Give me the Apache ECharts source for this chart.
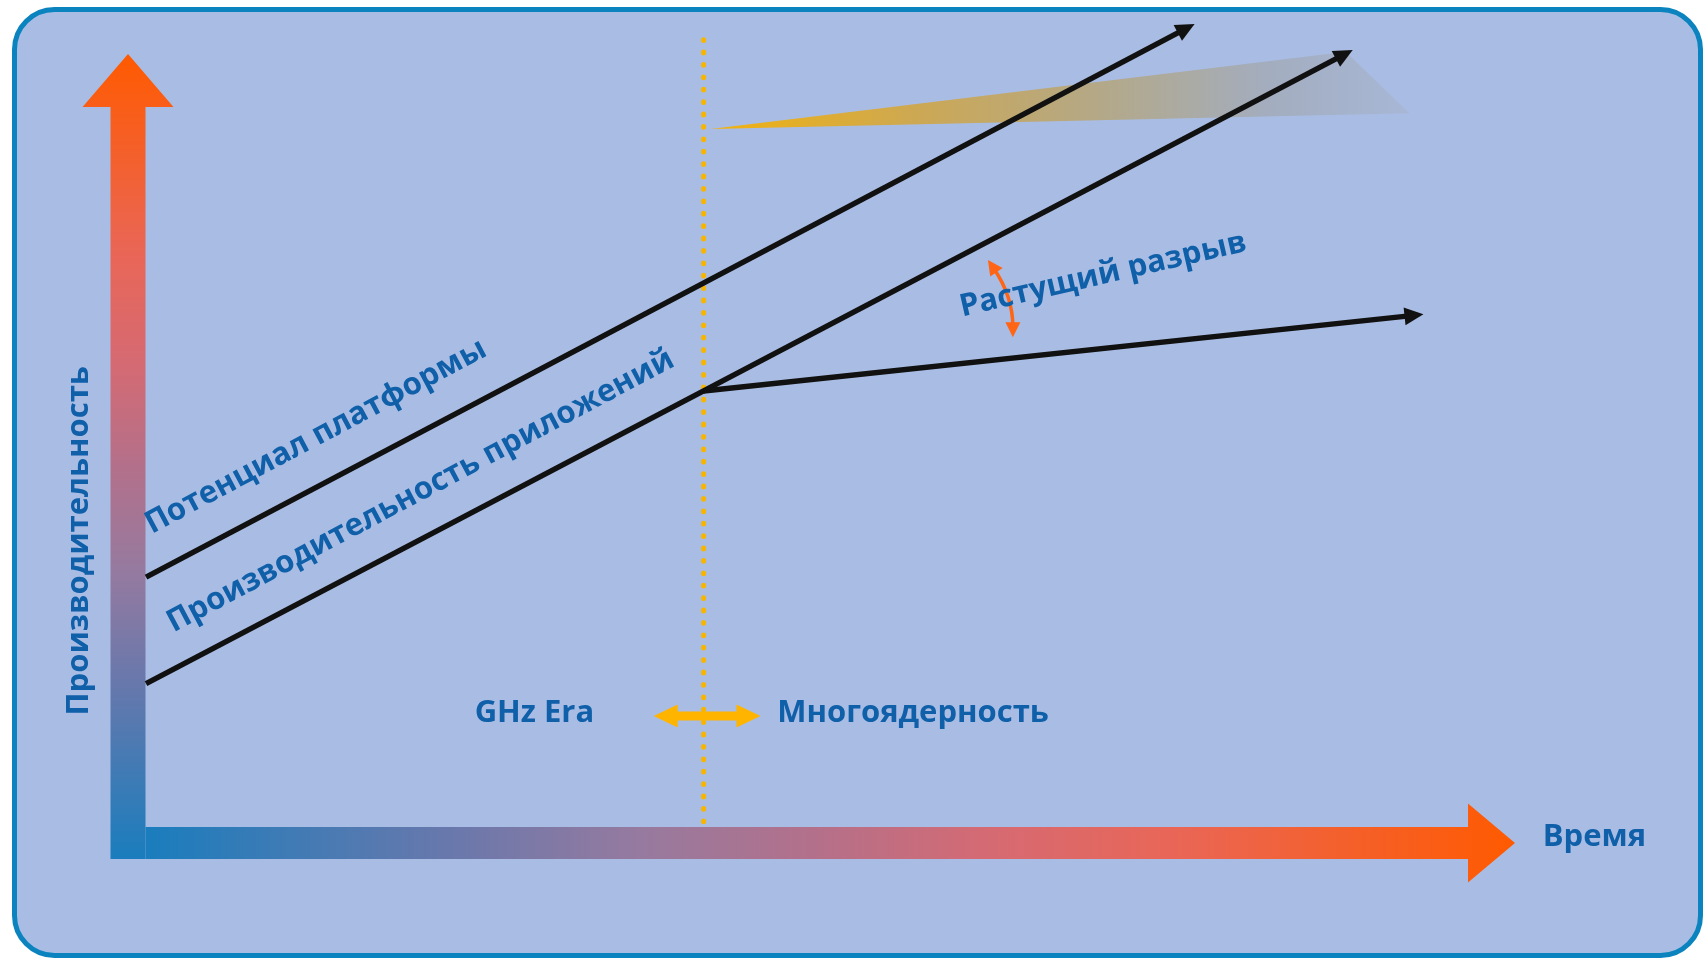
<!DOCTYPE html>
<html><head><meta charset="utf-8">
<script src="https://cdn.jsdelivr.net/npm/echarts@6/dist/echarts.min.js"></script>
<style>html,body{margin:0;padding:0;background:#fff;}#chart{width:1708px;height:959px;}</style>
</head><body><div id="chart"></div>
<script>
// ---- data (time axis 0..100, performance axis 0..100) ----
const timeRange = [0, 100];
const perfRange = [0, 100];
const platformPotential = [[1.3, 33.7], [76.9, 103.8]];
const appPerformance = [[1.3, 20.2], [88.3, 100.5]];
const multicorePerformance = [[41.5, 57.3], [93.4, 67.0]];
const eraBoundaryX = 41.5;
const eraBoundarySpan = [2.7, 102.2];
const eraArrowX = [37.9, 45.6];
const eraArrowY = 16.1;
const headroomWedge = [[42.0, 90.5], [87.8, 100.3], [92.4, 92.5]];
const gapArrow = [[62.0, 73.9], [63.8, 69.3], [63.8, 64.1]];
const labelTexts = ['Потенциал платформы', 'Производительность приложений', 'Растущий разрыв', 'GHz Era', 'Многоядерность', 'Время', 'Производительность'];
const labelX = [13.55, 21.1, 70.3, 29.3, 56.6, 102.0, -3.5];
const labelY = [51.5, 44.6, 72.0, 16.5, 16.5, 0.8, 38.3];
const labelAngle = [28, 28, 13, 0, 0, 0, 90];
const labelAlign = ['center', 'center', 'center', 'center', 'center', 'left', 'center'];

// ---- styles ----
const TEXT_COLOR = '#0f5fa9';
const axisStops = [
  {offset: 0, color: '#1a7dbd'}, {offset: 0.22, color: '#6878ac'}, {offset: 0.36, color: '#967a9f'},
  {offset: 0.49, color: '#b4708a'}, {offset: 0.62, color: '#d66a72'}, {offset: 0.75, color: '#e96657'},
  {offset: 1, color: '#ff5a00'}
];

function unit(a, b) {
  const dx = b[0] - a[0], dy = b[1] - a[1], L = Math.hypot(dx, dy);
  return [dx / L, dy / L];
}
function arrowPoints(p1, p2, sw, hw, hl) {
  const u = unit(p1, p2), n = [-u[1], u[0]];
  const bx = p2[0] - u[0] * hl, by = p2[1] - u[1] * hl;
  return [
    [p1[0] + n[0] * sw, p1[1] + n[1] * sw], [bx + n[0] * sw, by + n[1] * sw], [bx + n[0] * hw, by + n[1] * hw],
    [p2[0], p2[1]],
    [bx - n[0] * hw, by - n[1] * hw], [bx - n[0] * sw, by - n[1] * sw], [p1[0] - n[0] * sw, p1[1] - n[1] * sw]
  ];
}
function headPoints(tip, u, hw, hl) {
  const n = [-u[1], u[0]];
  const bx = tip[0] - u[0] * hl, by = tip[1] - u[1] * hl;
  return [[tip[0], tip[1]], [bx + n[0] * hw, by + n[1] * hw], [bx - n[0] * hw, by - n[1] * hw]];
}

const chart = echarts.init(document.getElementById('chart'), null, {renderer: 'canvas'});

const option = {
  backgroundColor: '#ffffff',
  animation: false,
  grid: {left: 128, right: 193, top: 54, bottom: 116, containLabel: false},
  xAxis: {type: 'value', min: timeRange[0], max: timeRange[1], show: false},
  yAxis: {type: 'value', min: perfRange[0], max: perfRange[1], show: false},
  graphic: [{
    type: 'rect', z: -10, silent: true,
    shape: {x: 14.5, y: 9.5, width: 1686, height: 946, r: 40},
    style: {fill: '#a9bde4', stroke: '#0b83bf', lineWidth: 5}
  }],
  series: [
    { // headroom wedge
      type: 'custom', name: 'headroom', silent: true, z: 1,
      data: [headroomWedge.flat()],
      renderItem: function (params, api) {
        const pts = [0, 1, 2].map(i => api.coord([api.value(i * 2), api.value(i * 2 + 1)]));
        return {type: 'polygon', shape: {points: pts}, style: {
          fill: new echarts.graphic.LinearGradient(0, 0, 1, 0, [
            {offset: 0, color: '#f2b20c'}, {offset: 0.3, color: '#cca855'}, {offset: 0.55, color: '#b4a886'},
            {offset: 0.8, color: '#a3adbf'}, {offset: 1, color: '#a7b7d6'}])
        }};
      }
    },
    { // era boundary dotted line
      type: 'custom', name: 'eraBoundary', silent: true, z: 2,
      data: [[eraBoundaryX, eraBoundarySpan[0], eraBoundaryX, eraBoundarySpan[1]]],
      renderItem: function (params, api) {
        const a = api.coord([api.value(0), api.value(1)]), b = api.coord([api.value(2), api.value(3)]);
        return {type: 'line', shape: {x1: a[0], y1: a[1], x2: b[0], y2: b[1]},
          style: {stroke: '#f7b500', lineWidth: 5, lineDash: [0.8, 11.6], lineCap: 'round'}};
      }
    },
    { // axes arrows
      type: 'custom', name: 'axes', silent: true, z: 3,
      data: [[timeRange[0], perfRange[0], timeRange[1], perfRange[1]]],
      renderItem: function (params, api) {
        const o = api.coord([api.value(0), api.value(1)]);
        const xt = api.coord([api.value(2), api.value(1)]);
        const yt = api.coord([api.value(0), api.value(3)]);
        const horz = arrowPoints([o[0] + 17.5, o[1]], xt, 16, 39.5, 47);
        const vert = arrowPoints([o[0], o[1] + 16], yt, 17.5, 45.5, 53);
        return {type: 'group', children: [
          {type: 'polygon', shape: {points: horz}, style: {fill: new echarts.graphic.LinearGradient(0, 0, 1, 0, axisStops)}},
          {type: 'polygon', shape: {points: vert}, style: {fill: new echarts.graphic.LinearGradient(0, 1, 0, 0, axisStops)}}
        ]};
      }
    },
    { // trend arrows
      type: 'custom', name: 'trends', silent: true, z: 4,
      data: [platformPotential, appPerformance, multicorePerformance].map(l => [l[0][0], l[0][1], l[1][0], l[1][1]]),
      renderItem: function (params, api) {
        const a = api.coord([api.value(0), api.value(1)]), b = api.coord([api.value(2), api.value(3)]);
        const u = unit(a, b);
        const e = [b[0] - u[0] * 12, b[1] - u[1] * 12];
        return {type: 'group', children: [
          {type: 'line', shape: {x1: a[0], y1: a[1], x2: e[0], y2: e[1]}, style: {stroke: '#111111', lineWidth: 5.5}},
          {type: 'polygon', shape: {points: headPoints(b, u, 9, 19)}, style: {fill: '#111111'}}
        ]};
      }
    },
    { // era double arrow
      type: 'custom', name: 'eraArrow', silent: true, z: 5,
      data: [[eraArrowX[0], eraArrowY, eraArrowX[1], eraArrowY]],
      renderItem: function (params, api) {
        const a = api.coord([api.value(0), api.value(1)]), b = api.coord([api.value(2), api.value(3)]);
        const hl = 24, hw = 11.5, sw = 4.5, y = a[1];
        const pts = [[a[0], y], [a[0] + hl, y - hw], [a[0] + hl, y - sw], [b[0] - hl, y - sw], [b[0] - hl, y - hw],
          [b[0], y], [b[0] - hl, y + hw], [b[0] - hl, y + sw], [a[0] + hl, y + sw], [a[0] + hl, y + hw]];
        return {type: 'polygon', shape: {points: pts}, style: {fill: '#ffb400'}};
      }
    },
    { // growing gap curved double arrow
      type: 'custom', name: 'gap', silent: true, z: 5,
      data: [gapArrow.flat()],
      renderItem: function (params, api) {
        const S = api.coord([api.value(0), api.value(1)]);
        const P = api.coord([api.value(2), api.value(3)]);
        const E = api.coord([api.value(4), api.value(5)]);
        const uS = unit(P, S), uE = unit(P, E);
        const s2 = [S[0] - uS[0] * 10, S[1] - uS[1] * 10], e2 = [E[0] - uE[0] * 10, E[1] - uE[1] * 10];
        const col = '#ff6514';
        return {type: 'group', children: [
          {type: 'bezierCurve', shape: {x1: s2[0], y1: s2[1], x2: e2[0], y2: e2[1], cpx1: P[0], cpy1: P[1]},
            style: {stroke: col, lineWidth: 3.5, fill: null}},
          {type: 'polygon', shape: {points: headPoints(S, uS, 7.5, 15)}, style: {fill: col}},
          {type: 'polygon', shape: {points: headPoints(E, uE, 7.5, 15)}, style: {fill: col}}
        ]};
      }
    },
    { // labels
      type: 'custom', name: 'labels', silent: true, z: 6,
      data: labelX.map((x, i) => [x, labelY[i], labelAngle[i], i]),
      renderItem: function (params, api) {
        const p = api.coord([api.value(0), api.value(1)]);
        const idx = api.value(3);
        return {type: 'text', x: p[0], y: p[1], rotation: api.value(2) * Math.PI / 180,
          style: {text: labelTexts[idx], fill: TEXT_COLOR, fontFamily: '"Open Sans"', fontWeight: 'bold',
            fontSize: 31, align: labelAlign[idx], verticalAlign: 'middle'}};
      }
    }
  ]
};
chart.setOption(option);
</script></body></html>
